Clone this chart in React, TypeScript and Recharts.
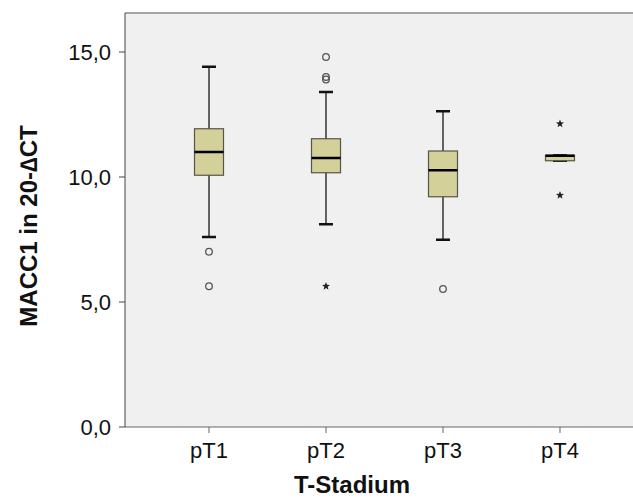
import { ComposedChart, Bar, Scatter, XAxis, YAxis, CartesianGrid, ReferenceLine, Label } from "recharts";

const categories = ["pT1", "pT2", "pT3", "pT4"];
const positions = [1, 2, 3, 4];
const whiskerLow = [7.6, 8.11, 7.49, 10.65];
const boxQ1 = [10.07, 10.17, 9.21, 10.65];
const medians = [11.0, 10.76, 10.27, 10.85];
const boxQ3 = [11.93, 11.53, 11.04, 10.87];
const whiskerHigh = [14.41, 13.4, 12.63, 10.87];

const circleX = [1, 1, 2, 2, 2, 3];
const circleY = [7.01, 5.63, 14.8, 13.9, 14.0, 5.52];
const starX = [2, 4, 4];
const starY = [5.63, 12.13, 9.27];

const yTicks = [0, 5, 10, 15];
const yMax = 16.56;

const boxData = categories.map((name, i) => ({
  name,
  x: positions[i],
  range: [whiskerLow[i], whiskerHigh[i]],
  lo: whiskerLow[i],
  q1: boxQ1[i],
  med: medians[i],
  q3: boxQ3[i],
  hi: whiskerHigh[i],
}));
const circles = circleX.map((x, i) => ({ x, y: circleY[i] }));
const stars = starX.map((x, i) => ({ x, y: starY[i] }));

const BoxShape = (props: any) => {
  const { x, y, width, height, payload } = props;
  const top = Math.min(y, y + height);
  const h = Math.abs(height);
  const { lo, hi, q1, q3, med } = payload;
  const py = (v: number) => (hi === lo ? top : top + (h * (hi - v)) / (hi - lo));
  const cx = x + width / 2;
  const cap = 7;
  return (
    <g>
      <line x1={cx} x2={cx} y1={py(hi)} y2={py(lo)} stroke="#333" strokeWidth={1.5} />
      <line x1={cx - cap} x2={cx + cap} y1={py(hi)} y2={py(hi)} stroke="#111" strokeWidth={2.5} />
      <line x1={cx - cap} x2={cx + cap} y1={py(lo)} y2={py(lo)} stroke="#111" strokeWidth={2.5} />
      <rect x={x} y={py(q3)} width={width} height={py(q1) - py(q3)} fill="#d4d09a" stroke="#55554a" strokeWidth={1.2} />
      <line x1={x} x2={x + width} y1={py(med)} y2={py(med)} stroke="#000" strokeWidth={2.5} />
    </g>
  );
};

const CircleShape = (props: any) => (
  <circle cx={props.cx} cy={props.cy} r={3.3} fill="none" stroke="#555" strokeWidth={1.3} />
);

const StarShape = (props: any) => {
  const { cx, cy } = props;
  const pts: string[] = [];
  for (let k = 0; k < 10; k++) {
    const r = k % 2 === 0 ? 4.2 : 1.8;
    const a = -Math.PI / 2 + (k * Math.PI) / 5;
    pts.push(`${cx + r * Math.cos(a)},${cy + r * Math.sin(a)}`);
  }
  return <polygon points={pts.join(" ")} fill="#222" />;
};

const fmt = (v: number) => v.toFixed(1).replace(".", ",");

export default function App() {
  return (
    <div style={{ position: "absolute", left: 0, top: 0, width: 633, height: 502, background: "#fff" }}>
      <ComposedChart
        width={633}
        height={502}
        data={boxData}
        margin={{ top: 13, right: 0, bottom: 0, left: 0 }}
      >
        <CartesianGrid fill="#f0f0f0" horizontal={false} vertical={false} />
        <XAxis
          type="number"
          dataKey="x"
          domain={[0.282, 4.624]}
          ticks={positions}
          tickFormatter={(v: number) => categories[v - 1]}
          height={75}
          tickSize={6}
          tickMargin={9}
          stroke="#666"
          tick={{ fill: "#111", fontSize: 22, fontFamily: "Liberation Sans, Arial, sans-serif" }}
          allowDataOverflow
        >
          <Label
            value="T-Stadium"
            position="insideBottom"
            offset={9}
            dx={-27}
            style={{ fill: "#111", fontSize: 24, fontWeight: "bold", fontFamily: "Liberation Sans, Arial, sans-serif" }}
          />
        </XAxis>
        <YAxis
          type="number"
          domain={[0, yMax]}
          ticks={yTicks}
          tickFormatter={fmt}
          width={125}
          tickSize={6}
          tickMargin={8}
          stroke="#444"
          tick={{ fill: "#111", fontSize: 22, fontFamily: "Liberation Sans, Arial, sans-serif" }}
          allowDataOverflow
        >
          <Label
            value="MACC1 in 20-∆CT"
            angle={-90}
            position="insideLeft"
            offset={28}
            dy={6}
            style={{ textAnchor: "middle", fill: "#111", fontSize: 24, fontWeight: "bold", fontFamily: "Liberation Sans, Arial, sans-serif" }}
          />
        </YAxis>
        <ReferenceLine y={yMax} stroke="#888" strokeWidth={1.5} />
        <Bar dataKey="range" barSize={29} shape={BoxShape} isAnimationActive={false} />
        <Scatter data={circles} dataKey="y" shape={CircleShape} isAnimationActive={false} />
        <Scatter data={stars} dataKey="y" shape={StarShape} isAnimationActive={false} />
      </ComposedChart>
    </div>
  );
}
